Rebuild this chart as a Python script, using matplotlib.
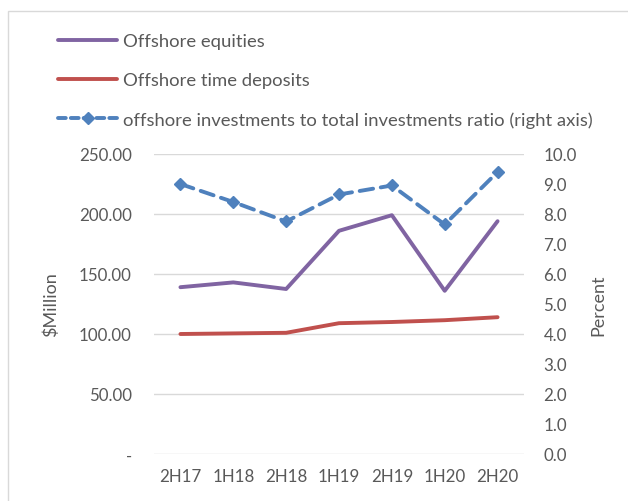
import matplotlib.pyplot as plt
import matplotlib.patches as mpatches
from matplotlib.lines import Line2D
from matplotlib.ticker import FuncFormatter

# ── Data ──────────────────────────────────────────────────────────────────────
periods = ["2H17", "1H18", "2H18", "1H19", "2H19", "1H20", "2H20"]
equities = [139, 143, 137.5, 186, 199, 136, 194]
time_deposits = [100, 100.5, 101, 109, 110, 111.5, 114]
offshore_ratio = [9.0, 8.4, 7.75, 8.65, 8.95, 7.65, 9.4]

PURPLE = "#8064a2"
RED = "#c0504d"
BLUE = "#4f81bd"
TXT = "#595959"
GRID = "#d9d9d9"

plt.rcParams["font.family"] = ["Lato", "DejaVu Sans"]

fig = plt.figure(figsize=(6.28, 5.02), dpi=100, facecolor="white")
# outer chart frame
fig.patches.append(mpatches.Rectangle((8 / 628, -0.1), 1.2, 1 - 12 / 502 + 0.1,
                                      transform=fig.transFigure, fill=False,
                                      edgecolor=GRID, linewidth=1))

ax = fig.add_axes([154 / 628, 47 / 502, 370 / 628, 300 / 502])
ax2 = ax.twinx()

x = range(len(periods))
ax.plot(x, equities, color=PURPLE, linewidth=2.8, solid_capstyle="round")
ax.plot(x, time_deposits, color=RED, linewidth=2.8, solid_capstyle="round")
ax2.plot(x, offshore_ratio, color=BLUE, linewidth=2.8, linestyle=(0, (3.5, 2)),
         marker="D", markersize=6.5, dash_capstyle="round")

ax.set_xlim(-0.5, len(periods) - 0.5)
ax.set_ylim(0, 250)
ax2.set_ylim(0, 10)
ax.set_yticks([0, 50, 100, 150, 200, 250])
ax2.set_yticks(range(0, 11))
ax.yaxis.set_major_formatter(FuncFormatter(lambda v, p: "-" if v == 0 else f"{v:.2f}"))
ax2.yaxis.set_major_formatter(FuncFormatter(lambda v, p: f"{v:.1f}"))
ax.set_xticks(list(x))
ax.set_xticklabels(periods)

ax.grid(axis="y", color=GRID, linewidth=1)
ax.set_axisbelow(True)
for a in (ax, ax2):
    for s in a.spines.values():
        s.set_visible(False)
    a.tick_params(length=0, colors=TXT, labelsize=12.2)
ax.tick_params(axis="x", pad=10)
ax.tick_params(axis="y", pad=16)
ax2.tick_params(axis="y", pad=14)

ax.set_ylabel("$Million", color=TXT, fontsize=13, labelpad=14)
ax2.set_ylabel("Percent", color=TXT, fontsize=13, labelpad=10)

handles = [
    Line2D([], [], color=PURPLE, linewidth=2.8, solid_capstyle="round"),
    Line2D([], [], color=RED, linewidth=2.8, solid_capstyle="round"),
    Line2D([], [], color=BLUE, linewidth=2.8, linestyle=(0, (2.0, 1.3)),
           marker="D", markersize=6.5, dash_capstyle="round"),
]
labels = ["Offshore equities", "Offshore time deposits",
          "offshore investments to total investments ratio (right axis)"]
fig.legend(handles, labels, loc="upper left", bbox_to_anchor=(58 / 628, 1 - 34 / 502),
           frameon=False, fontsize=13.3, labelcolor=TXT, handlelength=3.2,
           handletextpad=0.3, labelspacing=1.25, numpoints=1, borderpad=0,
           borderaxespad=0)

plt.savefig("out.png", dpi=100, facecolor="white")
